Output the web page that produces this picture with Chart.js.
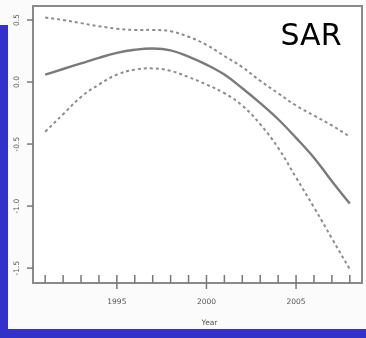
<!DOCTYPE html>
<html>
<head>
<meta charset="utf-8">
<script src="https://cdn.jsdelivr.net/npm/chart.js@4"></script>
<style>
  html, body { margin: 0; padding: 0; background: #fbfbfb; }
  #wrap { position: relative; width: 366px; height: 338px; overflow: hidden; }
  .blue { position: absolute; background: #3232c8; }
  canvas { position: absolute; left: 0; top: 0; }
</style>
</head>
<body>
<div id="wrap">
  <div class="blue" style="left:0;top:25px;width:8px;height:313px"></div>
  <div class="blue" style="left:0;top:329px;width:366px;height:9px"></div>
  <canvas id="grafico" width="366" height="338"></canvas>
</div>
<script>
const anos = [1991, 1992, 1993, 1994, 1995, 1996, 1997, 1998, 1999,
              2000, 2001, 2002, 2003, 2004, 2005, 2006, 2007, 2008];
const ajuste = [0.06, 0.105, 0.15, 0.195, 0.235, 0.26, 0.27, 0.255, 0.205,
                0.14, 0.06, -0.05, -0.17, -0.30, -0.45, -0.61, -0.80, -0.98];
const superior = [0.52, 0.50, 0.475, 0.45, 0.43, 0.42, 0.42, 0.41, 0.365,
                  0.30, 0.21, 0.12, 0.01, -0.09, -0.19, -0.27, -0.35, -0.44];
const inferior = [-0.40, -0.26, -0.12, -0.02, 0.06, 0.10, 0.11, 0.09, 0.04,
                  -0.02, -0.09, -0.19, -0.34, -0.53, -0.77, -1.01, -1.26, -1.51];
const ticksX = [1995, 2000, 2005];
const ticksY = [0.5, 0.0, -0.5, -1.0, -1.5];
const rotulosY = ['0.5', '0.0', '-0.5', '-1.0', '-1.5'];

const pts = arr => anos.map((a, i) => ({ x: a, y: arr[i] }));

// desenha moldura, eixos e textos estilo R
const eixosR = {
  id: 'eixosR',
  beforeDraw(chart) {
    const { ctx, chartArea: ca } = chart;
    ctx.save();
    ctx.fillStyle = '#ffffff';
    ctx.fillRect(ca.left, ca.top, ca.right - ca.left, ca.bottom - ca.top);
    ctx.restore();
  },
  afterDraw(chart) {
    const { ctx, chartArea: ca, scales: { x, y } } = chart;
    ctx.save();
    ctx.strokeStyle = '#8a8a8a';
    ctx.lineWidth = 2;
    ctx.strokeRect(ca.left, ca.top, ca.right - ca.left, ca.bottom - ca.top);

    // rug em cada ano
    ctx.lineWidth = 1.5;
    ctx.strokeStyle = '#777';
    anos.forEach(a => {
      const px = x.getPixelForValue(a);
      ctx.beginPath();
      ctx.moveTo(px, ca.bottom - 8);
      ctx.lineTo(px, ca.bottom);
      ctx.stroke();
    });
    ticksX.forEach(a => {
      const px = x.getPixelForValue(a);
      ctx.beginPath();
      ctx.moveTo(px, ca.bottom);
      ctx.lineTo(px, ca.bottom + 6);
      ctx.stroke();
    });
    ticksY.forEach(v => {
      const py = y.getPixelForValue(v);
      ctx.beginPath();
      ctx.moveTo(ca.left - 6, py);
      ctx.lineTo(ca.left, py);
      ctx.stroke();
    });

    ctx.fillStyle = '#555';
    ctx.font = '7.5px "DejaVu Sans"';
    ctx.textAlign = 'center';
    ctx.textBaseline = 'middle';
    ticksX.forEach(a => ctx.fillText(String(a), x.getPixelForValue(a), 302));
    ctx.fillText('Year', (ca.left + ca.right) / 2 + 12, 323);
    ticksY.forEach((v, i) => {
      ctx.save();
      ctx.translate(17, y.getPixelForValue(v));
      ctx.rotate(-Math.PI / 2);
      ctx.fillText(rotulosY[i], 0, 0);
      ctx.restore();
    });

    ctx.fillStyle = '#000';
    ctx.font = '30px "DejaVu Sans"';
    ctx.fillText('SAR', 311, 37);
    ctx.restore();
  }
};

new Chart(document.getElementById('grafico').getContext('2d'), {
  type: 'line',
  data: {
    datasets: [
      { data: pts(superior), borderColor: '#8c8c8c', borderWidth: 2, borderDash: [3, 3], tension: 0.4 },
      { data: pts(ajuste), borderColor: '#7a7a7a', borderWidth: 2.4, tension: 0.4 },
      { data: pts(inferior), borderColor: '#8c8c8c', borderWidth: 2, borderDash: [3, 3], tension: 0.4 }
    ]
  },
  options: {
    responsive: false,
    animation: false,
    layout: { padding: { left: 33, top: 6, right: 4, bottom: 55 } },
    elements: { point: { radius: 0 } },
    plugins: { legend: { display: false }, tooltip: { enabled: false } },
    scales: {
      x: { type: 'linear', min: 1990.32, max: 2008.68, display: false },
      y: { min: -1.62, max: 0.613, display: false }
    }
  },
  plugins: [eixosR]
});
</script>
</body>
</html>
